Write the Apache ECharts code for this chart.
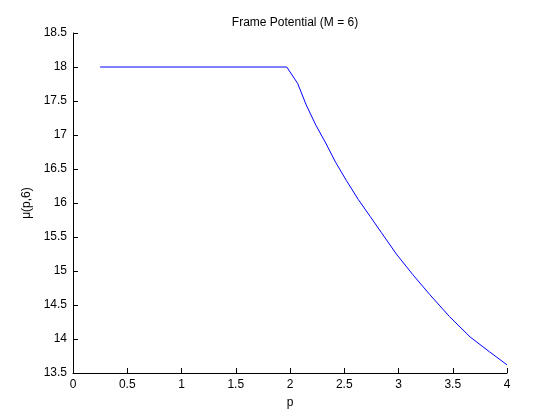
<!DOCTYPE html>
<html lang="en">
<head>
    <meta charset="UTF-8">
    <title>Frame Potential</title>
    <script src="https://cdn.jsdelivr.net/npm/echarts@6/dist/echarts.min.js"></script>
</head>
<body style="margin:0">
<div id="echarts" style="width: 560px;height:420px"></div>
<script>
    // p values and frame potential
    var pValues = [0.25, 1.97, 2.07, 2.15, 2.24, 2.33, 2.42, 2.52, 2.63, 2.74, 2.84, 2.98, 3.13, 3.29, 3.47, 3.66, 3.84, 4.0];
    var muValues = [18.0, 18.0, 17.76, 17.44, 17.14, 16.88, 16.60, 16.33, 16.05, 15.80, 15.57, 15.25, 14.95, 14.65, 14.33, 14.03, 13.81, 13.62];

    var chartDom = document.getElementById('echarts');
    var myChart = echarts.init(chartDom);
    var font = 'Liberation Sans, Arial, sans-serif';

    var points = pValues.map(function (p, i) { return [p, muValues[i]]; });

    var axisCommon = {
        axisLine: { show: true, lineStyle: { color: '#000', width: 1 } },
        axisTick: { show: true, inside: true, length: 5, lineStyle: { color: '#000' } },
        axisLabel: { color: '#000', fontFamily: font, fontSize: 12, margin: 6 },
        splitLine: { show: false },
        nameTextStyle: { color: '#000', fontFamily: font, fontSize: 12 }
    };

    var option = {
        animation: false,
        backgroundColor: '#fff',
        title: {
            text: 'Frame Potential (M = 6)',
            left: 290,
            textAlign: 'center',
            top: 12,
            textStyle: { color: '#000', fontFamily: font, fontSize: 12, fontWeight: 'normal' }
        },
        grid: { left: 73, right: 53, top: 33, bottom: 47 },
        xAxis: Object.assign({}, axisCommon, {
            type: 'value',
            min: 0, max: 4, interval: 0.5,
            name: 'p',
            nameLocation: 'middle',
            nameGap: 24
        }),
        yAxis: Object.assign({}, axisCommon, {
            type: 'value',
            min: 13.5, max: 18.5, interval: 0.5,
            name: 'μ(p,6)',
            nameLocation: 'middle',
            nameGap: 34
        }),
        series: [{
            type: 'line',
            data: points,
            showSymbol: false,
            smooth: false,
            lineStyle: { color: '#0000ff', width: 1 }
        }]
    };

    option && myChart.setOption(option);
</script>
</body>
</html>
